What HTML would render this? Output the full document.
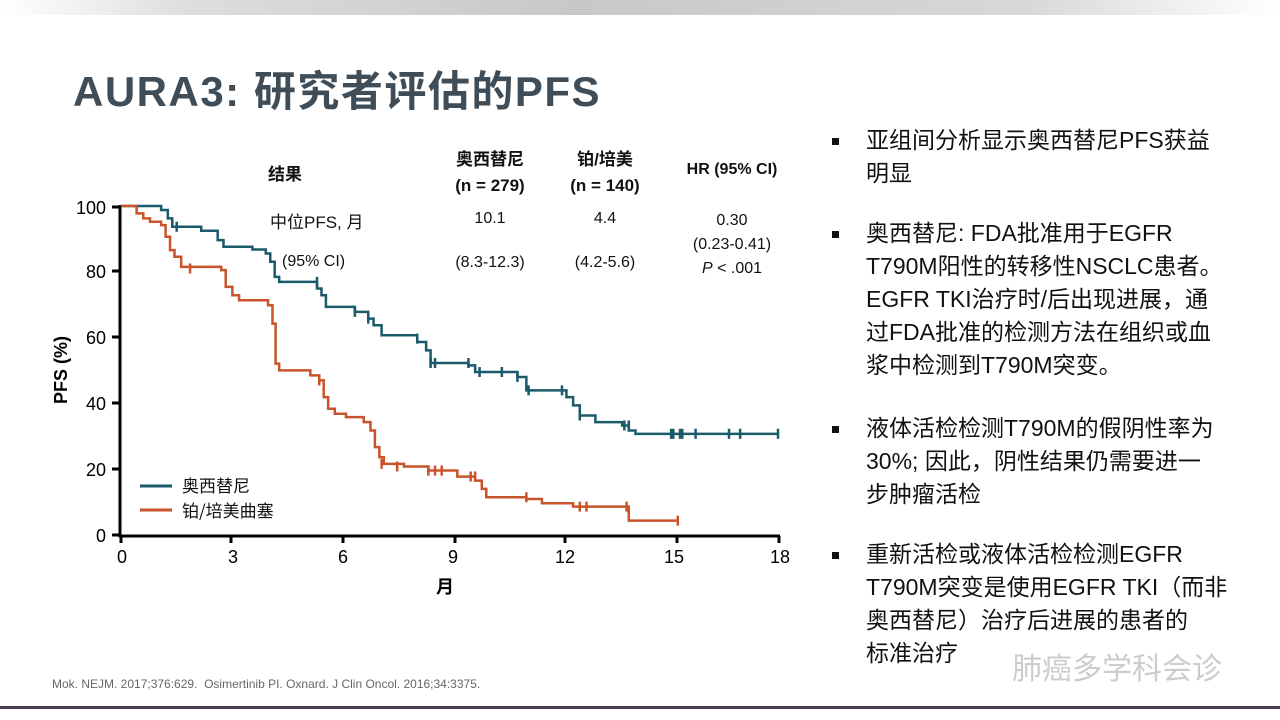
<!DOCTYPE html>
<html><head><meta charset="utf-8"><style>
body{margin:0;width:1280px;height:720px;background:#fff;position:relative;overflow:hidden;font-family:"Liberation Sans","Noto Sans CJK SC",sans-serif;color:#111}
.t{position:absolute;white-space:nowrap}
.band{position:absolute;left:0;top:0;width:1280px;height:15px;background:linear-gradient(90deg,#fff 0%,#ddd 15%,#c8c8c8 45%,#d8d8d8 80%,#fff 100%)}
.title{left:73px;top:58px;font-size:42px;font-weight:bold;color:#3f4d58;letter-spacing:1.5px}
.b{font-size:23px;line-height:33px;left:866px;color:#111}
.dot{position:absolute;left:832px;width:7px;height:7px;background:#111}
.c{text-align:center;transform:translateX(-50%)}
</style></head><body>
<div class="band"></div>
<div class="t title">AURA3: 研究者评估的PFS</div>

<div class="t" style="left:268px;top:160px;font-size:17px;font-weight:bold">结果</div>
<div class="t c" style="left:490px;top:147px;font-size:17px;font-weight:bold;line-height:26px">奥西替尼<br>(n = 279)</div>
<div class="t c" style="left:605px;top:147px;font-size:17px;font-weight:bold;line-height:26px">铂/培美<br>(n = 140)</div>
<div class="t c" style="left:732px;top:161px;font-size:16px;font-weight:bold">HR (95% CI)</div>
<div class="t" style="left:270px;top:208px;font-size:17px">中位PFS, 月</div>
<div class="t" style="left:282px;top:253px;font-size:16px">(95% CI)</div>
<div class="t c" style="left:490px;top:210px;font-size:16px">10.1</div>
<div class="t c" style="left:490px;top:254px;font-size:16px">(8.3-12.3)</div>
<div class="t c" style="left:605px;top:210px;font-size:16px">4.4</div>
<div class="t c" style="left:605px;top:254px;font-size:16px">(4.2-5.6)</div>
<div class="t c" style="left:732px;top:209px;font-size:16px;line-height:24px">0.30<br>(0.23-0.41)<br><i>P</i> &lt; .001</div>

<svg width="1280" height="720" style="position:absolute;left:0;top:0">
<g stroke="#000" stroke-width="3" fill="none">
<path d="M120,205 V536 H780"/>
<path d="M121,536 v7 M231,536 v7 M343,536 v7 M455,536 v7 M565,536 v7 M677,536 v7 M779,536 v7"/>
<path d="M112,207 h8 M112,271 h8 M112,337 h8 M112,403 h8 M112,469 h8 M112,535 h8"/>
</g>
<g font-family="Liberation Sans,sans-serif" font-size="18" fill="#000">
<text x="122" y="563" text-anchor="middle">0</text>
<text x="233" y="563" text-anchor="middle">3</text>
<text x="343" y="563" text-anchor="middle">6</text>
<text x="453" y="563" text-anchor="middle">9</text>
<text x="565" y="563" text-anchor="middle">12</text>
<text x="674" y="563" text-anchor="middle">15</text>
<text x="780" y="563" text-anchor="middle">18</text>
<g text-anchor="end"><text x="106" y="214">100</text><text x="106" y="278">80</text><text x="106" y="344">60</text><text x="106" y="410">40</text><text x="106" y="476">20</text><text x="106" y="542">0</text></g>
<text x="445" y="593" text-anchor="middle" font-weight="bold" font-family="Noto Sans CJK SC,sans-serif">月</text>
<text transform="translate(67,370) rotate(-90)" text-anchor="middle" font-weight="bold">PFS (%)</text>
</g>
<g transform="translate(101,190) scale(0.4454,0.334)" fill="none" stroke-width="2.5">
<path vector-effect="non-scaling-stroke" stroke="#1b5a6b" d="M45,48 H135 V60 H150 V85 H160 V110 H225 V122 H262 V150 H275 V170 H340 V178 H370 V190 H380 V215 H390 V260 H400 V275 H485 V295 H495 V315 H505 V350 H570 V365 H600 V385 H612 V405 H630 V435 H710 V455 H730 V480 H740 V518 H825 V525 H840 V545 H935 V560 H955 V600 H1045 V620 H1060 V645 H1075 V675 H1110 V695 H1170 V705 H1185 V720 H1200 V730 H1520"/>
<path vector-effect="non-scaling-stroke" stroke="#1b5a6b" d="M170,95v30 M485,260v30 M570,350v30 M600,370v30 M710,430v30 M740,503v30 M750,503v30 M825,503v30 M850,530v30 M900,530v30 M935,545v30 M960,585v30 M1035,585v30 M1075,660v30 M1175,690v30 M1185,690v30 M1280,715v30 M1285,715v30 M1300,715v30 M1305,715v30 M1335,715v30 M1410,715v30 M1435,715v30 M1520,715v30"/>
<path vector-effect="non-scaling-stroke" stroke="#c9532a" d="M45,48 H80 V70 H95 V85 H110 V95 H135 V105 H145 V140 H155 V180 H165 V200 H180 V230 H270 V240 H280 V290 H295 V315 H310 V330 H375 V345 H385 V400 H392 V520 H400 V540 H470 V555 H490 V570 H500 V620 H510 V655 H525 V670 H550 V680 H590 V695 H605 V720 H615 V770 H625 V800 H635 V820 H680 V828 H735 V840 H800 V858 H840 V870 H855 V895 H865 V920 H955 V925 H990 V938 H1060 V948 H1185 V990 H1295"/>
<path vector-effect="non-scaling-stroke" stroke="#c9532a" d="M200,220v30 M490,555v30 M630,805v30 M665,813v30 M735,825v30 M750,825v30 M765,825v30 M830,843v30 M840,843v30 M955,905v30 M1075,933v30 M1090,933v30 M1180,933v30 M1295,975v30"/>
</g>
<path d="M140,486 h32" stroke="#1b5a6b" stroke-width="3"/>
<path d="M140,510 h32" stroke="#c9532a" stroke-width="3"/>
<g font-family="Noto Sans CJK SC,sans-serif" font-size="17" fill="#111">
<text x="182" y="492">奥西替尼</text><text x="182" y="517">铂/培美曲塞</text></g>
</svg>

<div class="dot" style="top:138px"></div>
<div class="t b" style="top:124px">亚组间分析显示奥西替尼PFS获益<br>明显</div>
<div class="dot" style="top:231px"></div>
<div class="t b" style="top:217px">奥西替尼: FDA批准用于EGFR<br>T790M阳性的转移性NSCLC患者。<br>EGFR TKI治疗时/后出现进展，通<br>过FDA批准的检测方法在组织或血<br>浆中检测到T790M突变。</div>
<div class="dot" style="top:426px"></div>
<div class="t b" style="top:412px">液体活检检测T790M的假阴性率为<br>30%; 因此，阴性结果仍需要进一<br>步肿瘤活检</div>
<div class="dot" style="top:552px"></div>
<div class="t b" style="top:538px">重新活检或液体活检检测EGFR<br>T790M突变是使用EGFR TKI（而非<br>奥西替尼）治疗后进展的患者的<br>标准治疗</div>
<div class="t" style="left:1012px;top:644px;font-size:30px;color:#ccc">肺癌多学科会诊</div>
<div class="t" style="left:52px;top:677px;font-size:12px;color:#666">Mok. NEJM. 2017;376:629.&nbsp; Osimertinib PI. Oxnard. J Clin Oncol. 2016;34:3375.</div>
<div style="position:absolute;left:0;top:706px;width:1280px;height:3px;background:#4a3f55"></div>
</body></html>
